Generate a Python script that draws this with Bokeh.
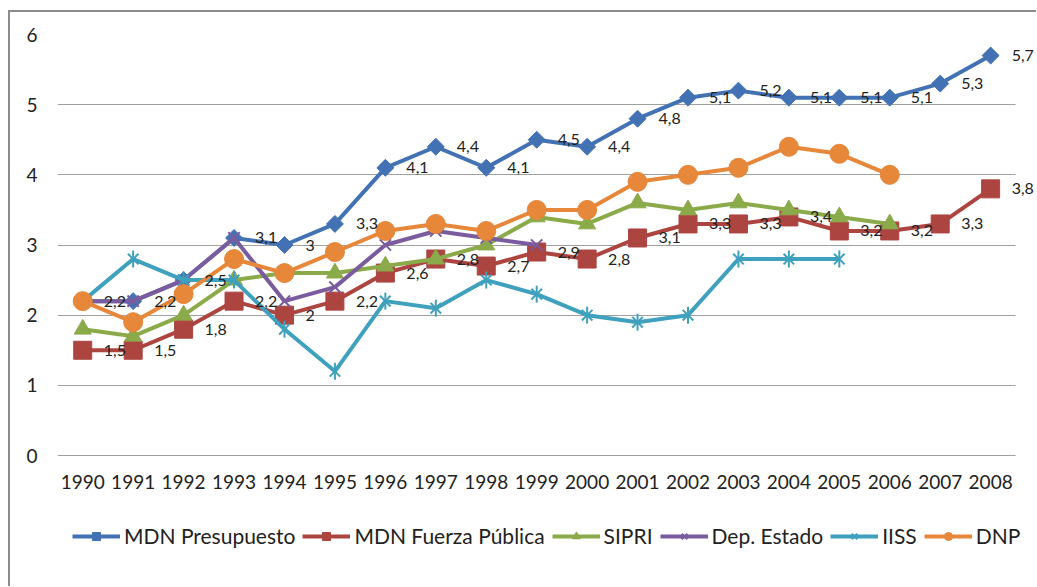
import numpy as np
from bokeh.plotting import figure
from bokeh.models import Legend, LegendItem, FixedTicker, ColumnDataSource, Range1d, LabelSet
from bokeh.core.properties import value
from bokeh.embed import file_html
from bokeh.resources import INLINE

years = list(range(1990, 2009))
mdn_presupuesto = [2.2, 2.2, 2.5, 3.1, 3.0, 3.3, 4.1, 4.4, 4.1, 4.5, 4.4, 4.8, 5.1, 5.2, 5.1, 5.1, 5.1, 5.3, 5.7]
mdn_fuerza_publica = [1.5, 1.5, 1.8, 2.2, 2.0, 2.2, 2.6, 2.8, 2.7, 2.9, 2.8, 3.1, 3.3, 3.3, 3.4, 3.2, 3.2, 3.3, 3.8]
sipri = [1.8, 1.7, 2.0, 2.5, 2.6, 2.6, 2.7, 2.8, 3.0, 3.4, 3.3, 3.6, 3.5, 3.6, 3.5, 3.4, 3.3, None, None]
dep_estado = [2.2, 2.2, 2.5, 3.1, 2.2, 2.4, 3.0, 3.2, 3.1, 3.0, None, None, None, None, None, None, None, None, None]
iiss = [2.2, 2.8, 2.5, 2.5, 1.8, 1.2, 2.2, 2.1, 2.5, 2.3, 2.0, 1.9, 2.0, 2.8, 2.8, 2.8, None, None, None]
dnp = [2.2, 1.9, 2.3, 2.8, 2.6, 2.9, 3.2, 3.3, 3.2, 3.5, 3.5, 3.9, 4.0, 4.1, 4.4, 4.3, 4.0, None, None]
y_ticks = [0, 1, 2, 3, 4, 5, 6]

names = ["MDN Presupuesto", "MDN Fuerza Pública", "SIPRI", "Dep. Estado", "IISS", "DNP"]
colors = ["#4372B4", "#AC4440", "#8BAA4A", "#7A5C9E", "#3FA1BD", "#E6873A"]
series = [mdn_presupuesto, mdn_fuerza_publica, sipri, dep_estado, iiss, dnp]


def fmt(v):
    return ("%g" % v).replace(".", ",")


def arr(vals):
    return np.array([np.nan if v is None else v for v in vals], dtype=float)


# layout geometry (pixels)
canvas_w, canvas_h = 1026, 574
border_l, border_t = 47, 22
frame_w = canvas_w - border_l
frame_h = canvas_h - border_t
plot_h = 421                      # height of the 0..6 value band
px_per_unit = plot_h / 6.0
px_per_year = 50.44
x0 = years[0] - 0.5
x1 = x0 + frame_w / px_per_year
y0 = -(frame_h - plot_h) / px_per_unit

p = figure(frame_width=frame_w, frame_height=frame_h, output_backend="svg", toolbar_location=None,
           x_range=Range1d(x0, x1), y_range=Range1d(y0, y_ticks[-1]),
           min_border_left=border_l, min_border_right=0, min_border_top=border_t, min_border_bottom=0)
p.styles = {"margin-left": "8px", "margin-top": "10px",
            "border-left": "2px solid #8c8c8c", "border-top": "2px solid #8c8c8c"}
p.outline_line_color = None
p.background_fill_color = "white"
p.border_fill_color = "white"

font = "Lato"
txt_color = "#222222"

for ax in (p.xaxis[0], p.yaxis[0]):
    ax.axis_line_color = None
    ax.major_tick_line_color = None
    ax.minor_tick_line_color = None
    ax.major_tick_out = 0
    ax.major_tick_in = 0
    ax.minor_tick_out = 0
    ax.major_label_text_font = font
    ax.major_label_text_font_size = "19px"
    ax.major_label_text_color = txt_color
p.xaxis[0].ticker = FixedTicker(ticks=years)
p.xaxis[0].fixed_location = 0
p.xaxis[0].major_label_standoff = 19
p.yaxis[0].ticker = FixedTicker(ticks=y_ticks)
p.yaxis[0].major_label_standoff = 20
p.xgrid.grid_line_color = None

grid = p.ygrid[0]
grid.ticker = FixedTicker(ticks=y_ticks)
if "cross_bounds" in grid.properties():
    grid.cross_bounds = (x0, years[-1] + 0.5)
    grid.grid_line_color = "#a0a0a0"
    grid.grid_line_width = 1
else:
    grid.grid_line_color = None
    p.segment(x0=[x0] * len(y_ticks), x1=[years[-1] + 0.5] * len(y_ticks), y0=y_ticks, y1=y_ticks,
              line_color="#a0a0a0", line_width=1)

items = []
for name, color, vals in zip(names, colors, series):
    y = arr(vals)
    src = ColumnDataSource(dict(x=years, y=y))
    rends = [p.line("x", "y", source=src, line_color=color, line_width=4)]
    if name == "MDN Presupuesto":
        rends.append(p.scatter("x", "y", source=src, marker="square", angle=np.pi / 4, size=12,
                               fill_color=color, line_color=color))
    elif name == "MDN Fuerza Pública":
        rends.append(p.scatter("x", "y", source=src, marker="square", size=18,
                               fill_color=color, line_color=color))
    elif name == "SIPRI":
        rends.append(p.scatter("x", "y", source=src, marker="triangle", size=17,
                               fill_color=color, line_color=color))
    elif name == "Dep. Estado":
        rends.append(p.scatter("x", "y", source=src, marker="x", size=16,
                               line_color=color, line_width=2))
    elif name == "IISS":
        rends.append(p.scatter("x", "y", source=src, marker="x", size=15,
                               line_color=color, line_width=2))
        rends.append(p.scatter("x", "y", source=src, marker="dash", angle=np.pi / 2, size=17,
                               line_color=color, line_width=2))
    else:
        rends.append(p.scatter("x", "y", source=src, marker="circle", size=19,
                               fill_color=color, line_color=color))
    items.append(LegendItem(label=name, renderers=rends))

for vals in (mdn_presupuesto, mdn_fuerza_publica):
    lsrc = ColumnDataSource(dict(x=years, y=vals, t=[fmt(v) for v in vals]))
    labels = LabelSet(x="x", y="y", text="t", source=lsrc, x_offset=21, y_offset=0,
                      text_align="left", text_baseline="middle",
                      text_font=value(font), text_font_size=value("16px"), text_color=txt_color)
    p.add_layout(labels)

legend = Legend(items=items, orientation="horizontal", location=(15, 38))
legend.label_text_font = font
legend.label_text_font_size = "21px"
legend.label_text_color = txt_color
legend.label_height = 20
legend.glyph_width = 48
legend.glyph_height = 20
legend.label_standoff = 4
legend.spacing = 7
legend.padding = 0
legend.margin = 0
legend.border_line_color = None
legend.background_fill_alpha = 0
p.add_layout(legend, "center")

open("out.html", "w").write(file_html(p, INLINE))
